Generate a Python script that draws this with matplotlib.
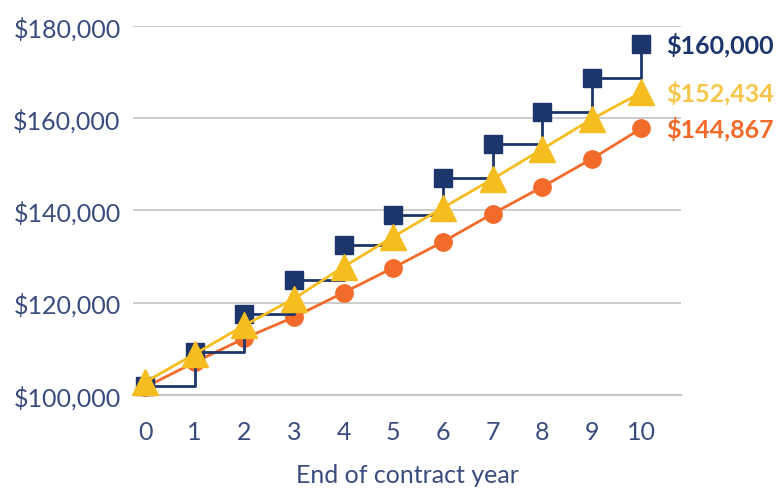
import matplotlib
matplotlib.use("Agg")
import matplotlib.pyplot as plt
from matplotlib.ticker import FuncFormatter

years = list(range(0, 11))
fixed_step = [101900, 109400, 117600, 125000, 132500, 139100, 147100, 154300, 161400, 168800, 176100]
yellow_vals = [102800, 108900, 115100, 120900, 127800, 134300, 140600, 146800, 153300, 159800, 165600]
orange_vals = [101700, 107100, 112300, 116900, 122200, 127600, 133200, 139300, 145100, 151200, 157800]
end_labels = ["$160,000", "$152,434", "$144,867"]
y_ticks = [100000, 120000, 140000, 160000, 180000]
x_label = "End of contract year"

NAVY = "#1C366B"
YELLOW = "#F5BD1F"
YELLOW_TXT = "#F7C548"
ORANGE = "#F26B2A"
TICK = "#3A4B7E"
GRID = "#C8C8C8"

plt.rcParams['font.family'] = ['Lato', 'DejaVu Sans']

fig = plt.figure(figsize=(7.83, 4.89), dpi=100)
ax = fig.add_axes([0.170, 0.190, 0.700, 0.755])

ax.plot(years, orange_vals, color=ORANGE, lw=2.0, marker='o', markersize=12.5,
        zorder=3, clip_on=False)
ax.plot(years, fixed_step, color=NAVY, lw=2.0, drawstyle='steps-post', zorder=4, clip_on=False)
ax.plot(years, fixed_step, color=NAVY, lw=0, marker='s', markersize=12.5, zorder=4, clip_on=False)
ax.plot(years, yellow_vals, color=YELLOW, lw=2.0, marker='^', markersize=19,
        zorder=5, clip_on=False)

ax.set_xlim(-0.24, 10.8)
ax.set_ylim(100000, 180000)
ax.set_yticks(y_ticks)
ax.set_xticks(years)
ax.yaxis.set_major_formatter(FuncFormatter(lambda v, p: f"${v:,.0f}"))
ax.tick_params(axis='both', length=0, labelsize=18, colors=TICK)
ax.tick_params(axis='y', pad=9)
ax.tick_params(axis='x', pad=18)
ax.grid(axis='y', color=GRID, lw=1.3)
ax.set_axisbelow(True)
for s in ['top', 'right', 'left']:
    ax.spines[s].set_visible(False)
ax.spines['bottom'].set_color(GRID)
ax.spines['bottom'].set_linewidth(1.6)
ax.set_xlabel(x_label, fontsize=18, color=TICK, labelpad=14)

label_y = [fixed_step[-1], yellow_vals[-1], orange_vals[-1]]
label_c = [NAVY, YELLOW_TXT, ORANGE]
for t, yv, c in zip(end_labels, label_y, label_c):
    ax.annotate(t, xy=(10, yv), xytext=(18, 0), textcoords='offset points',
                ha='left', va='center', fontsize=18, fontweight='bold', color=c,
                annotation_clip=False)

fig.savefig("out.png", dpi=100)
